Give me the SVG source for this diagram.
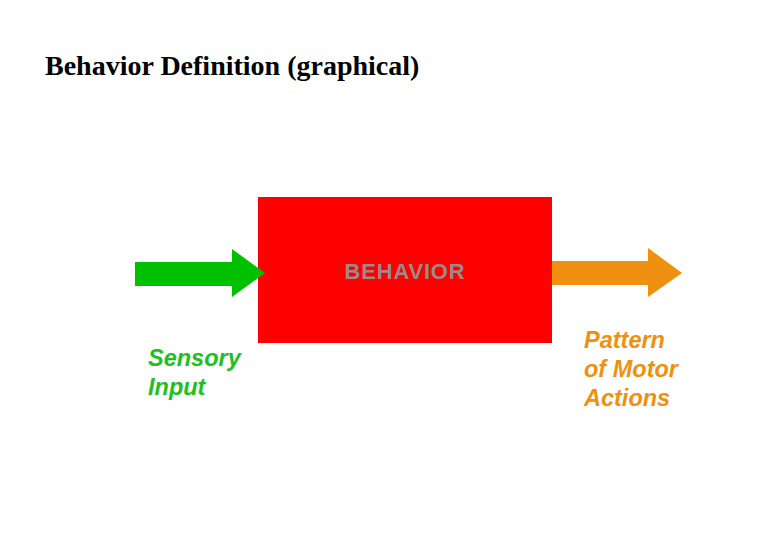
<svg xmlns="http://www.w3.org/2000/svg" width="780" height="540" viewBox="0 0 780 540">
<style>
.lbl{font-family:"Liberation Sans",Arial,sans-serif;font-size:23.5px;font-weight:bold;font-style:italic}
</style>
<rect width="780" height="540" fill="#fff"/>
<text x="45" y="75" font-family="Liberation Serif,'Times New Roman',serif" font-size="28" font-weight="bold" fill="#000">Behavior Definition (graphical)</text>
<g id="behavior">
<rect x="258" y="197" width="294" height="146" fill="#ff0000"/>
<text x="405" y="279" text-anchor="middle" font-family="Liberation Sans,Arial,sans-serif" font-size="22" font-weight="bold" letter-spacing="0.8" fill="#9a8a8a">BEHAVIOR</text>
</g>
<g id="sensory-input">
<text class="lbl" fill="#20c020"><tspan x="148" y="366">Sensory</tspan><tspan x="148" y="395">Input</tspan></text>
</g>
<g id="motor-actions">
<text class="lbl" fill="#f09010"><tspan x="584" y="348">Pattern</tspan><tspan x="584" y="377">of Motor</tspan><tspan x="584" y="406">Actions</tspan></text>
</g>
<g id="connectors">
<polygon id="input-arrow" points="135,262 232,262 232,249 265,273 232,297 232,286 135,286" fill="#00c000"/>
<polygon id="output-arrow" points="552,261 648,261 648,248 682,273 648,297 648,285 552,285" fill="#f09010"/>
</g>
</svg>
